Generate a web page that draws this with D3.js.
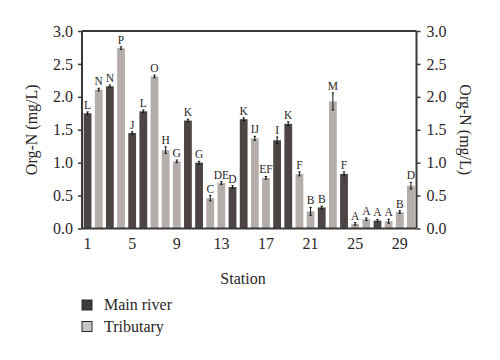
<!DOCTYPE html>
<html><head><meta charset="utf-8">
<script src="https://cdn.jsdelivr.net/npm/d3@7"></script>
<style>body{margin:0;background:#fff}svg{display:block}</style>
</head><body>
<svg id="c" width="500" height="360"></svg>
<script>
const stations = d3.range(1, 31);
const values = [1.75,2.11,2.16,2.74,1.45,1.78,2.31,1.19,1.02,1.64,1.00,0.46,0.69,0.63,1.66,1.37,0.77,1.34,1.59,0.83,0.26,0.32,1.93,0.83,0.07,0.14,0.12,0.11,0.25,0.65];
const errors = [0.02,0.02,0.02,0.02,0.02,0.02,0.02,0.05,0.02,0.02,0.02,0.04,0.02,0.02,0.02,0.03,0.02,0.05,0.03,0.03,0.06,0.02,0.13,0.03,0.02,0.02,0.02,0.03,0.02,0.05];
const types = ["M","T","M","T","M","M","T","T","T","M","M","T","T","M","M","T","T","M","M","T","T","M","T","M","T","T","M","T","T","T"];
const letters = ["L","N","N","P","J","L","O","H","G","K","G","C","DE","D","K","IJ","EF","I","K","F","B","B","M","F","A","A","A","A","B","D"];
const xTicks = [1,5,9,13,17,21,25,29];
const yTicks = [0,0.5,1.0,1.5,2.0,2.5,3.0];
const seriesNames = ["Main river","Tributary"];

const colors = {M:"#4c4543", T:"#b4adaa"};
const legendColors = {M:"#3f3b3a", T:"#c9c5c3"};
const axisColor = "#3b3838";
const font = "'Liberation Serif', 'DejaVu Serif', serif";

const svg = d3.select("#c");
const L = 82, R = 416.5, T = 31, B = 228.5;
const x = d3.scaleBand().domain(stations).range([L, R]).paddingInner(0.3).paddingOuter(0.15);
const y = d3.scaleLinear().domain([0, 3]).range([B, T]);

// bars
svg.append("g").selectAll("rect").data(stations).join("rect")
  .attr("x", d => x(d)).attr("width", x.bandwidth())
  .attr("y", (d,i) => y(values[i])).attr("height", (d,i) => B - y(values[i]))
  .attr("fill", (d,i) => colors[types[i]]);

// error bars
const eg = svg.append("g").attr("stroke", "#111").attr("stroke-width", 1);
stations.forEach((d,i) => {
  const cx = x(d) + x.bandwidth()/2;
  const y1 = y(values[i] + errors[i]), y2 = y(values[i] - errors[i]);
  eg.append("line").attr("x1", cx).attr("x2", cx).attr("y1", y1).attr("y2", y2);
  eg.append("line").attr("x1", cx-1.2).attr("x2", cx+1.2).attr("y1", y1).attr("y2", y1);
  eg.append("line").attr("x1", cx-1.2).attr("x2", cx+1.2).attr("y1", y2).attr("y2", y2);
});

// letters
svg.append("g").selectAll("text").data(stations).join("text")
  .attr("x", d => x(d) + x.bandwidth()/2)
  .attr("y", (d,i) => y(values[i] + errors[i]) - 3)
  .attr("text-anchor", "middle")
  .attr("font-family", font).attr("font-size", 11.5).attr("fill", "#2a2626")
  .text((d,i) => letters[i]);

// axes
const yl = svg.append("g").attr("transform", `translate(${L},0)`)
  .call(d3.axisLeft(y).tickValues(yTicks).tickFormat(d3.format(".1f")).tickSize(4).tickPadding(5));
const yr = svg.append("g").attr("transform", `translate(${R},0)`)
  .call(d3.axisRight(y).tickValues(yTicks).tickFormat(d3.format(".1f")).tickSize(4).tickPadding(6));
const xa = svg.append("g").attr("transform", `translate(0,${B})`)
  .call(d3.axisBottom(x).tickValues(xTicks).tickSize(0).tickPadding(9));
[yl, yr, xa].forEach(g => {
  g.select(".domain").attr("stroke", axisColor).attr("stroke-width", 2);
  g.selectAll(".tick line").attr("stroke", axisColor).attr("stroke-width", 1.5);
  g.selectAll("text").attr("font-family", font).attr("font-size", 16).attr("fill", "#2a2626");
});
yl.select(".domain").attr("d", `M0,${B}V${T}`);
yr.select(".domain").attr("d", `M0,${B}V${T}`);
xa.select(".domain").attr("d", `M${L},0H${R}`);
svg.append("line").attr("x1", L).attr("x2", R).attr("y1", T).attr("y2", T)
  .attr("stroke", axisColor).attr("stroke-width", 2);

// titles
svg.append("text").attr("transform", `translate(37,${(T+B)/2}) rotate(-90)`)
  .attr("text-anchor", "middle").attr("font-family", font).attr("font-size", 16).attr("fill", "#2a2626")
  .text("Org-N (mg/L)");
svg.append("text").attr("transform", `translate(460,${(T+B)/2}) rotate(90)`)
  .attr("text-anchor", "middle").attr("font-family", font).attr("font-size", 16).attr("fill", "#2a2626")
  .text("Org-N (mg/L)");
svg.append("text").attr("x", 243).attr("y", 284).attr("text-anchor", "middle")
  .attr("font-family", font).attr("font-size", 16).attr("fill", "#2a2626").text("Station");

// legend
const lg = svg.append("g");
["M","T"].forEach((k,i) => {
  lg.append("rect").attr("x", 82).attr("y", 300 + i*21.5).attr("width", 10).attr("height", 10)
    .attr("fill", legendColors[k]).attr("stroke", "#2a2626").attr("stroke-width", 1);
  lg.append("text").attr("x", 104).attr("y", 310 + i*21.5)
    .attr("font-family", font).attr("font-size", 16).attr("fill", "#2a2626").text(seriesNames[i]);
});
</script>
</body></html>
